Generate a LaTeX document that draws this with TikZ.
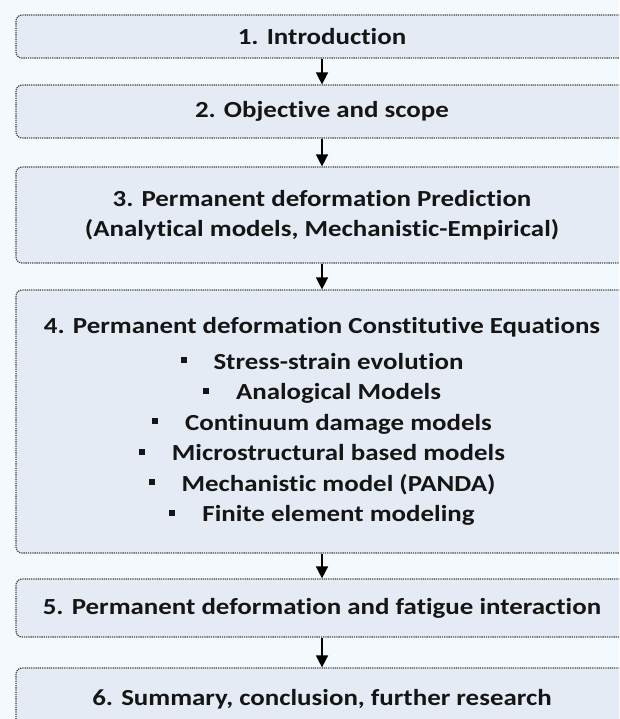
\documentclass[tikz,border=0pt]{standalone}
\usepackage{fontspec}
\setmainfont{Carlito}[Ligatures=NoCommon, FakeStretch=1.17]
\usetikzlibrary{arrows.meta}
\definecolor{bgcol}{HTML}{F4F9FD}
\definecolor{boxfill}{HTML}{E4EBF4}
\definecolor{boxline}{HTML}{484848}
\definecolor{txt}{HTML}{151515}
\newcommand{\bitem}[1]{\rule[6pt]{6pt}{6pt}\hspace{27pt}#1}
\begin{document}
\begin{tikzpicture}[x=1pt,y=-1pt,
  stagebox/.style={draw=boxline, line width=1.2pt, dash pattern=on 1.3pt off 0.9pt,
    fill=boxfill, rounded corners=6pt, minimum width=612pt, inner sep=0pt,
    text=txt, font=\bfseries\fontsize{23}{30.5}\selectfont, align=center},
  flow/.style={draw=black, line width=1.5pt, -{Triangle[length=12pt,width=12pt]}}]
\fill[bgcol] (0,0) rectangle (619,719);
\clip (0,0) rectangle (619,719);
\node[stagebox, minimum height=43pt] (b1) at (322,36.5) {1. Introduction};
\node[stagebox, minimum height=53pt] (b2) at (322,111.5) {2. Objective and scope};
\node[stagebox, minimum height=96pt] (b3) at (322,215) {3. Permanent deformation Prediction\\(Analytical models, Mechanistic-Empirical)};
\node[stagebox, minimum height=263pt] (b4) at (322,421.5) {4. Permanent deformation Constitutive Equations\\[5pt]
\bitem{Stress-strain evolution}\\
\bitem{Analogical Models}\\
\bitem{Continuum damage models}\\
\bitem{Microstructural based models}\\
\bitem{Mechanistic model (PANDA)}\\
\bitem{Finite element modeling}};
\node[stagebox, minimum height=58pt] (b5) at (322,608) {5. Permanent deformation and fatigue interaction};
\node[stagebox, minimum height=62pt] (b6) at (322,699) {6. Summary, conclusion, further research};
\draw[flow] (b1) -- (b2);
\draw[flow] (b2) -- (b3);
\draw[flow] (b3) -- (b4);
\draw[flow] (b4) -- (b5);
\draw[flow] (b5) -- (b6);
\end{tikzpicture}
\end{document}
